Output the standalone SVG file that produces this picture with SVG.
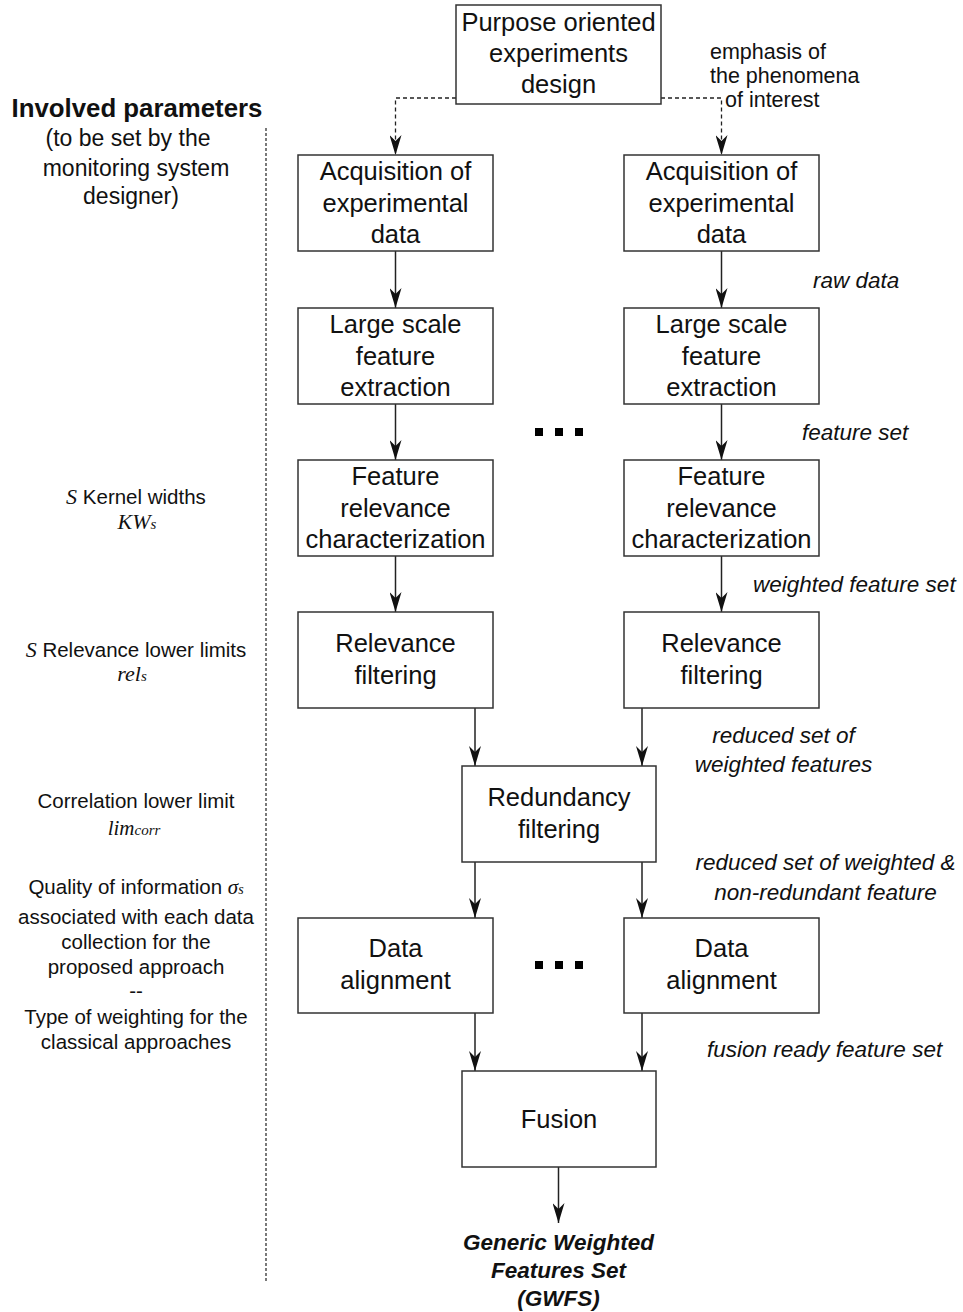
<svg xmlns="http://www.w3.org/2000/svg" width="963" height="1312" viewBox="0 0 963 1312">
<style>
  .box { fill: #fff; stroke: #333; stroke-width: 1.5; }
  .bt { font-family: "Liberation Sans", Arial, sans-serif; font-size: 25.5px; fill: #111; text-anchor: middle; }
  .lbl { font-family: "Liberation Sans", Arial, sans-serif; font-size: 22.5px; font-style: italic; fill: #111; }
  .side { font-family: "Liberation Sans", Arial, sans-serif; font-size: 23px; fill: #111; text-anchor: middle; }
  .side2 { font-family: "Liberation Sans", Arial, sans-serif; font-size: 20.5px; fill: #111; text-anchor: middle; }
  .math { font-family: "Liberation Serif", "Times New Roman", serif; font-style: italic; }
  .emp { font-family: "Liberation Sans", Arial, sans-serif; font-size: 21.5px; fill: #111; }
  .conn { stroke: #222; stroke-width: 1.5; fill: none; }
  .dash { stroke: #222; stroke-width: 1.3; fill: none; stroke-dasharray: 4 3; }
</style>
<defs>
  <marker id="arr" markerUnits="userSpaceOnUse" markerWidth="20" markerHeight="12" refX="20" refY="6" orient="auto" viewBox="0 0 20 12">
    <path d="M0,0 L20,6 L0,12 L6,6 Z" fill="#111"/>
  </marker>
</defs>
<rect width="963" height="1312" fill="#fff"/>

<g id="connectors">
  <polyline class="dash" points="456,98 395.5,98 395.5,155" marker-end="url(#arr)"/>
  <polyline class="dash" points="661,98 721.5,98 721.5,155" marker-end="url(#arr)"/>
  <line class="conn" x1="395.5" y1="251" x2="395.5" y2="308" marker-end="url(#arr)"/>
  <line class="conn" x1="721.5" y1="251" x2="721.5" y2="308" marker-end="url(#arr)"/>
  <line class="conn" x1="395.5" y1="404" x2="395.5" y2="460" marker-end="url(#arr)"/>
  <line class="conn" x1="721.5" y1="404" x2="721.5" y2="460" marker-end="url(#arr)"/>
  <line class="conn" x1="395.5" y1="556" x2="395.5" y2="612" marker-end="url(#arr)"/>
  <line class="conn" x1="721.5" y1="556" x2="721.5" y2="612" marker-end="url(#arr)"/>
  <line class="conn" x1="475" y1="708" x2="475" y2="766" marker-end="url(#arr)"/>
  <line class="conn" x1="642" y1="708" x2="642" y2="766" marker-end="url(#arr)"/>
  <line class="conn" x1="475" y1="862" x2="475" y2="918" marker-end="url(#arr)"/>
  <line class="conn" x1="642" y1="862" x2="642" y2="918" marker-end="url(#arr)"/>
  <line class="conn" x1="475" y1="1013" x2="475" y2="1071" marker-end="url(#arr)"/>
  <line class="conn" x1="642" y1="1013" x2="642" y2="1071" marker-end="url(#arr)"/>
  <line class="conn" x1="558.5" y1="1167" x2="558.5" y2="1223" marker-end="url(#arr)"/>
</g>

<g id="separator">
  <line x1="266" y1="128" x2="266" y2="1282" stroke="#222" stroke-width="1.2" stroke-dasharray="3 2"/>
</g>

<g id="n-purpose">
  <rect class="box" x="456" y="5" width="205" height="99"/>
  <text class="bt" x="558.5" y="31">Purpose oriented</text>
  <text class="bt" x="558.5" y="62">experiments</text>
  <text class="bt" x="558.5" y="93">design</text>
</g>

<g id="n-acq-l">
  <rect class="box" x="298" y="155" width="195" height="96"/>
  <text class="bt" x="395.5" y="180">Acquisition of</text>
  <text class="bt" x="395.5" y="212">experimental</text>
  <text class="bt" x="395.5" y="243">data</text>
</g>
<g id="n-acq-r">
  <rect class="box" x="624" y="155" width="195" height="96"/>
  <text class="bt" x="721.5" y="180">Acquisition of</text>
  <text class="bt" x="721.5" y="212">experimental</text>
  <text class="bt" x="721.5" y="243">data</text>
</g>

<g id="n-large-l">
  <rect class="box" x="298" y="308" width="195" height="96"/>
  <text class="bt" x="395.5" y="333">Large scale</text>
  <text class="bt" x="395.5" y="365">feature</text>
  <text class="bt" x="395.5" y="396">extraction</text>
</g>
<g id="n-large-r">
  <rect class="box" x="624" y="308" width="195" height="96"/>
  <text class="bt" x="721.5" y="333">Large scale</text>
  <text class="bt" x="721.5" y="365">feature</text>
  <text class="bt" x="721.5" y="396">extraction</text>
</g>

<g id="n-frc-l">
  <rect class="box" x="298" y="460" width="195" height="96"/>
  <text class="bt" x="395.5" y="485">Feature</text>
  <text class="bt" x="395.5" y="517">relevance</text>
  <text class="bt" x="395.5" y="548">characterization</text>
</g>
<g id="n-frc-r">
  <rect class="box" x="624" y="460" width="195" height="96"/>
  <text class="bt" x="721.5" y="485">Feature</text>
  <text class="bt" x="721.5" y="517">relevance</text>
  <text class="bt" x="721.5" y="548">characterization</text>
</g>

<g id="n-rf-l">
  <rect class="box" x="298" y="612" width="195" height="96"/>
  <text class="bt" x="395.5" y="652">Relevance</text>
  <text class="bt" x="395.5" y="684">filtering</text>
</g>
<g id="n-rf-r">
  <rect class="box" x="624" y="612" width="195" height="96"/>
  <text class="bt" x="721.5" y="652">Relevance</text>
  <text class="bt" x="721.5" y="684">filtering</text>
</g>

<g id="n-redundancy">
  <rect class="box" x="462" y="766" width="194" height="96"/>
  <text class="bt" x="559" y="806">Redundancy</text>
  <text class="bt" x="559" y="838">filtering</text>
</g>

<g id="n-da-l">
  <rect class="box" x="298" y="918" width="195" height="95"/>
  <text class="bt" x="395.5" y="957">Data</text>
  <text class="bt" x="395.5" y="989">alignment</text>
</g>
<g id="n-da-r">
  <rect class="box" x="624" y="918" width="195" height="95"/>
  <text class="bt" x="721.5" y="957">Data</text>
  <text class="bt" x="721.5" y="989">alignment</text>
</g>

<g id="n-fusion">
  <rect class="box" x="462" y="1071" width="194" height="96"/>
  <text class="bt" x="559" y="1128">Fusion</text>
</g>

<g id="n-gwfs">
  <text x="558.5" y="1250" font-family="Liberation Sans, Arial, sans-serif" font-size="22.5" font-weight="bold" font-style="italic" text-anchor="middle" fill="#111">Generic Weighted</text>
  <text x="558.5" y="1278" font-family="Liberation Sans, Arial, sans-serif" font-size="22.5" font-weight="bold" font-style="italic" text-anchor="middle" fill="#111">Features Set</text>
  <text x="558.5" y="1306" font-family="Liberation Sans, Arial, sans-serif" font-size="22.5" font-weight="bold" font-style="italic" text-anchor="middle" fill="#111">(GWFS)</text>
</g>

<g id="dots">
  <rect x="535" y="428" width="8" height="8" fill="#000"/>
  <rect x="555" y="428" width="8" height="8" fill="#000"/>
  <rect x="575" y="428" width="8" height="8" fill="#000"/>
  <rect x="535" y="961" width="8" height="8" fill="#000"/>
  <rect x="555" y="961" width="8" height="8" fill="#000"/>
  <rect x="575" y="961" width="8" height="8" fill="#000"/>
</g>

<g id="right-labels">
  <text class="emp" x="710" y="59">emphasis of</text>
  <text class="emp" x="710" y="83">the phenomena</text>
  <text class="emp" x="725" y="107">of interest</text>
  <text class="lbl" x="813" y="288">raw data</text>
  <text class="lbl" x="802" y="440">feature set</text>
  <text class="lbl" x="753" y="592">weighted feature set</text>
  <text class="lbl" x="783.5" y="743" text-anchor="middle">reduced set of</text>
  <text class="lbl" x="783.5" y="772" text-anchor="middle">weighted features</text>
  <text class="lbl" x="825.5" y="870" text-anchor="middle">reduced set of weighted &amp;</text>
  <text class="lbl" x="825.5" y="900" text-anchor="middle">non-redundant feature</text>
  <text class="lbl" x="707" y="1057">fusion ready feature set</text>
</g>

<g id="left-params">
  <text x="137" y="117" font-family="Liberation Sans, Arial, sans-serif" font-size="25.8px" font-weight="bold" text-anchor="middle" fill="#111">Involved parameters</text>
  <text class="side" x="128" y="146">(to be set by the</text>
  <text class="side" x="136" y="176">monitoring system</text>
  <text class="side" x="131" y="204">designer)</text>

  <text class="side2" x="136" y="504"><tspan class="math" font-size="22">S</tspan> Kernel widths</text>
  <text class="side2" x="137" y="529"><tspan class="math" font-size="22">KW</tspan><tspan class="math" font-size="15">s</tspan></text>

  <text class="side2" x="136" y="657"><tspan class="math" font-size="22">S</tspan> Relevance lower limits</text>
  <text class="side2" x="132" y="681"><tspan class="math" font-size="22">rel</tspan><tspan class="math" font-size="15">s</tspan></text>

  <text class="side2" x="136" y="808">Correlation lower limit</text>
  <text class="side2" x="134" y="835"><tspan class="math" font-size="21">lim</tspan><tspan class="math" font-size="15">corr</tspan></text>

  <text class="side2" x="136" y="894">Quality of information <tspan class="math" font-size="21">σ</tspan><tspan class="math" font-size="14">s</tspan></text>
  <text class="side2" x="136" y="924">associated with each data</text>
  <text class="side2" x="136" y="949">collection for the</text>
  <text class="side2" x="136" y="974">proposed approach</text>
  <text class="side2" x="136" y="998">--</text>
  <text class="side2" x="136" y="1024">Type of weighting for the</text>
  <text class="side2" x="136" y="1049">classical approaches</text>
</g>
</svg>
